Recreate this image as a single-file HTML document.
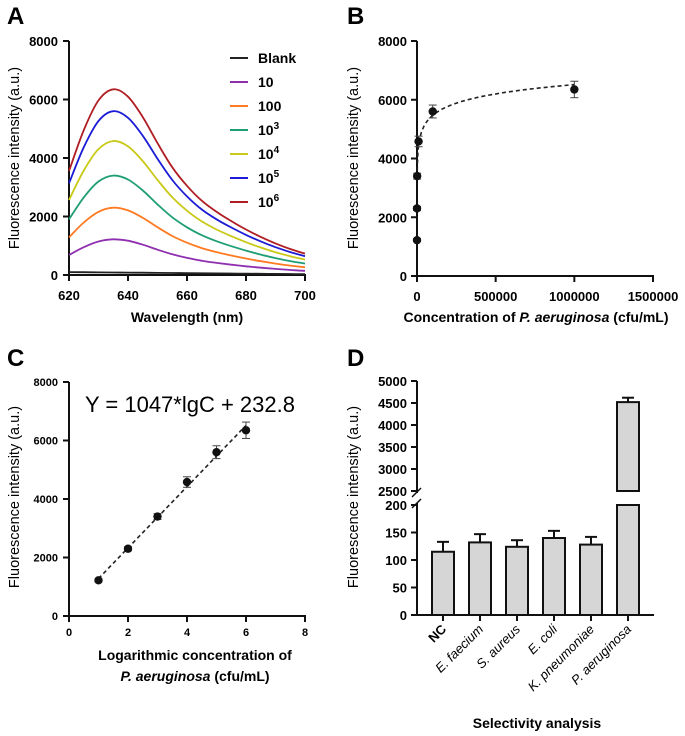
<!DOCTYPE html>
<html><head><meta charset="utf-8"><style>
body{margin:0;background:#fff}
svg{display:block;font-family:"Liberation Sans",sans-serif}
.t{font-weight:bold;font-size:13px}
</style></head><body>
<svg id="s" width="685" height="736" viewBox="0 0 685 736"></svg>
<script>
// ---- Panel A data ----
const wavelengths=[620,625,630,635,640,645,650,655,660,665,670,675,680,685,690,695,700];
const spectrumShape=[0.56,0.78,0.94,1.0,0.96,0.85,0.71,0.58,0.48,0.40,0.34,0.29,0.245,0.205,0.17,0.14,0.115];
const seriesNames=["Blank","10","100","10^3","10^4","10^5","10^6"];
const seriesPeaks=[110,1220,2300,3400,4580,5600,6350];
const seriesColors=["#222","#8e2fb0","#ff7a21","#1f9e74","#c9c918","#1c1cd6","#b01e24"];
const ticksA_x=[620,640,660,680,700];
const ticksA_y=[0,2000,4000,6000,8000];
// ---- Panel B/C data ----
const concentrations=[10,100,1000,10000,100000,1000000];
const logConc=[1,2,3,4,5,6];
const intensity=[1220,2300,3400,4580,5600,6350];
const intensityErr=[50,70,100,180,220,280];
const fitSlope=1047, fitIntercept=232.8;
const ticksB_x=[0,500000,1000000,1500000];
const ticksC_x=[0,2,4,6,8];
// ---- Panel D data ----
const bacteria=["NC","E. faecium","S. aureus","E. coli","K. pneumoniae","P. aeruginosa"];
const bacteriaValues=[115,132,124,140,128,4520];
const bacteriaErr=[18,15,12,13,14,100];
const ticksD_low=[0,50,100,150,200];
const ticksD_high=[2500,3000,3500,4000,4500,5000];

const S=document.getElementById('s');const NS="http://www.w3.org/2000/svg";
function el(tag,at,txt){const e=document.createElementNS(NS,tag);for(const k in at)e.setAttribute(k,at[k]);if(txt!=null)e.textContent=txt;S.appendChild(e);return e;}
function line(x1,y1,x2,y2,name,w,c,dash){const e=el('line',{x1,y1,x2,y2,stroke:c||'#111','stroke-width':w||2});if(dash)e.setAttribute('stroke-dasharray',dash);

return e;}
function text(x,y,s,name,at){const e=el('text',Object.assign({x,y},at||{}),s);

return e;}
function letter(x,y,s){text(x,y,s,'panel-label-'+s.toLowerCase(),{'font-size':24,'font-weight':'bold'});}
function yTitle(x,y,s,name){text(x,y,s,name,{'font-size':14.5,'text-anchor':'middle',transform:`rotate(-90 ${x} ${y})`});}
function smooth(pts){let d='M'+pts[0][0].toFixed(1)+','+pts[0][1].toFixed(1);
for(let i=0;i<pts.length-1;i++){const p0=pts[i-1]||pts[i],p1=pts[i],p2=pts[i+1],p3=pts[i+2]||p2;
const c1=[p1[0]+(p2[0]-p0[0])/6,p1[1]+(p2[1]-p0[1])/6],c2=[p2[0]-(p3[0]-p1[0])/6,p2[1]-(p3[1]-p1[1])/6];
d+='C'+c1.map(v=>v.toFixed(1))+' '+c2.map(v=>v.toFixed(1))+' '+p2.map(v=>v.toFixed(1));}return d;}

// ===== Panel A =====
letter(7,24,"A");
const ax=v=>69+(v-620)/80*236, ay=v=>275-v/8000*234;
line(69,41,69,276,'a-y-axis');line(68,275,306,275,'a-x-axis');
ticksA_y.forEach(v=>{line(63,ay(v),69,ay(v),'a-y-tick');text(58,ay(v)+5,v,'a-y-tick-label',{class:'t','text-anchor':'end'});});
ticksA_x.forEach(v=>{line(ax(v),275,ax(v),281,'a-x-tick');text(ax(v),300,v,'a-x-tick-label',{class:'t','text-anchor':'middle'});});
yTitle(19,158,'Fluorescence intensity (a.u.)','a-y-axis-title');
text(187,322,'Wavelength (nm)','a-x-axis-title',{'font-size':14,'font-weight':'bold','text-anchor':'middle'});
seriesPeaks.forEach((p,i)=>{
  const pts=wavelengths.map((w,j)=>{let v=i==0?p*(0.9-j*0.04):p*spectrumShape[j];if(v<20)v=20;return [ax(w),ay(v)];});
  const e=el('path',{d:smooth(pts),fill:'none',stroke:seriesColors[i],'stroke-width':1.8,'stroke-linejoin':'round'});
  
  
  const yy=58+i*24;line(230,yy,248,yy,'legend-swatch',2,seriesColors[i]);
  const parts=seriesNames[i].split('^');
  const t=text(258,yy+5,parts[0],'legend-entry',{'font-size':14,'font-weight':'bold'});
  if(parts[1]){const ts=document.createElementNS(NS,'tspan');ts.setAttribute('dy',-6);ts.setAttribute('font-size',10);ts.textContent=parts[1];t.appendChild(ts);}
});

// ===== Panel B =====
letter(347,24,"B");
const bx=v=>417+v/1500000*236, by=v=>276-v/8000*235;
line(417,41,417,277,'b-y-axis');line(416,276,654,276,'b-x-axis');
ticksA_y.forEach(v=>{line(411,by(v),417,by(v),'b-y-tick');text(407,by(v)+5,v,'b-y-tick-label',{class:'t','text-anchor':'end'});});
ticksB_x.forEach(v=>{line(bx(v),276,bx(v),282,'b-x-tick');text(bx(v),301,v,'b-x-tick-label',{class:'t','text-anchor':'middle'});});
yTitle(358,158,'Fluorescence intensity (a.u.)','b-y-axis-title');
{const t=text(536,322,'Concentration of ','b-x-axis-title',{'font-size':14,'font-weight':'bold','text-anchor':'middle'});
const a=document.createElementNS(NS,'tspan');a.setAttribute('font-style','italic');a.textContent='P. aeruginosa';t.appendChild(a);
const b=document.createElementNS(NS,'tspan');b.textContent=' (cfu/mL)';t.appendChild(b);}
{let d='';for(let k=0;k<=56;k++){const c=Math.pow(10,3.2+k*0.05);const v=fitSlope*Math.log10(c)+fitIntercept;d+=(k?'L':'M')+bx(c).toFixed(1)+','+by(v).toFixed(1);}
const e=el('path',{d,fill:'none',stroke:'#222','stroke-width':1.6,'stroke-dasharray':'4 3'});
}
concentrations.forEach((c,i)=>{const x=bx(c),y=by(intensity[i]),e1=by(intensity[i]+intensityErr[i]),e2=by(intensity[i]-intensityErr[i]);
line(x,e1,x,e2,'b-error-bar',1,'#444');line(x-4,e1,x+4,e1,'b-error-cap',1,'#444');line(x-4,e2,x+4,e2,'b-error-cap',1,'#444');
const p=el('circle',{cx:x,cy:y,r:4.2,fill:'#111'});});

// ===== Panel C =====
letter(7,366,"C");
const cx=v=>69+v/8*236, cy=v=>616-v/8000*234;
line(69,382,69,617,'c-y-axis');line(68,616,306,616,'c-x-axis');
ticksA_y.forEach(v=>{line(63,cy(v),69,cy(v),'c-y-tick');text(58,cy(v)+4,v,'c-y-tick-label',{'font-size':11,'font-weight':'bold','text-anchor':'end'});});
ticksC_x.forEach(v=>{line(cx(v),616,cx(v),622,'c-x-tick');text(cx(v),636,v,'c-x-tick-label',{'font-size':11,'font-weight':'bold','text-anchor':'middle'});});
yTitle(19,497,'Fluorescence intensity (a.u.)','c-y-axis-title');
text(195,660,'Logarithmic concentration of','c-x-axis-title',{'font-size':14,'font-weight':'bold','text-anchor':'middle'});
{const t=text(195,681,'P. aeruginosa','c-x-axis-title-2',{'font-size':14,'font-weight':'bold','font-style':'italic','text-anchor':'middle'});
const b=document.createElementNS(NS,'tspan');b.setAttribute('font-style','normal');b.textContent=' (cfu/mL)';t.appendChild(b);}
text(85,412,'Y = 1047*lgC + 232.8','c-equation',{'font-size':22});
line(cx(1),cy(fitSlope*1+fitIntercept),cx(6),cy(fitSlope*6+fitIntercept),'c-fit-line',1.6,'#222','4 3');
logConc.forEach((c,i)=>{const x=cx(c),y=cy(intensity[i]),e1=cy(intensity[i]+intensityErr[i]),e2=cy(intensity[i]-intensityErr[i]);
line(x,e1,x,e2,'c-error-bar',1,'#444');line(x-4,e1,x+4,e1,'c-error-cap',1,'#444');line(x-4,e2,x+4,e2,'c-error-cap',1,'#444');
const p=el('circle',{cx:x,cy:y,r:4.2,fill:'#111'});});

// ===== Panel D =====
letter(347,366,"D");
const dyLow=v=>615-v/200*110, dyHigh=v=>491-(v-2500)/2500*110;
const dy=v=>v<=200?dyLow(v):dyHigh(v);
line(417,381,417,493,'d-y-axis-upper');line(417,503,417,616,'d-y-axis-lower');line(416,615,654,615,'d-x-axis');
line(412,497,421,488,'d-axis-break',1.5);line(412,508,421,499,'d-axis-break',1.5);
ticksD_low.forEach(v=>{line(411,dyLow(v),417,dyLow(v),'d-y-tick');text(407,dyLow(v)+5,v,'d-y-tick-label',{class:'t','text-anchor':'end'});});
ticksD_high.forEach(v=>{line(411,dyHigh(v),417,dyHigh(v),'d-y-tick');text(407,dyHigh(v)+5,v,'d-y-tick-label',{class:'t','text-anchor':'end'});});
yTitle(358,497,'Fluorescence intensity (a.u.)','d-y-axis-title');
text(537,728,'Selectivity analysis','d-x-axis-title',{'font-size':14,'font-weight':'bold','text-anchor':'middle'});
bacteria.forEach((b,i)=>{const x=443+i*37,w=22,v=bacteriaValues[i],top=dy(v),e=dy(v+bacteriaErr[i]);
line(x,e,x,top,'d-error-bar',2);line(x-6,e,x+6,e,'d-error-cap',2);
if(v>200){const r1=el('rect',{x:x-w/2,y:top,width:w,height:dyHigh(2500)-top,fill:'#d6d6d6',stroke:'#111','stroke-width':2});

const r2=el('rect',{x:x-w/2,y:dyLow(200),width:w,height:615-dyLow(200),fill:'#d6d6d6',stroke:'#111','stroke-width':2});
}
else{const r=el('rect',{x:x-w/2,y:top,width:w,height:615-top,fill:'#d6d6d6',stroke:'#111','stroke-width':2});
}
line(x,615,x,621,'d-x-tick');
text(x+4,630,b,'d-x-tick-label',{'font-size':13,'font-style':i?'italic':'normal','font-weight':i?'normal':'bold','text-anchor':'end',transform:`rotate(-45 ${x+4} 630)`});
});
</script>
</body></html>
